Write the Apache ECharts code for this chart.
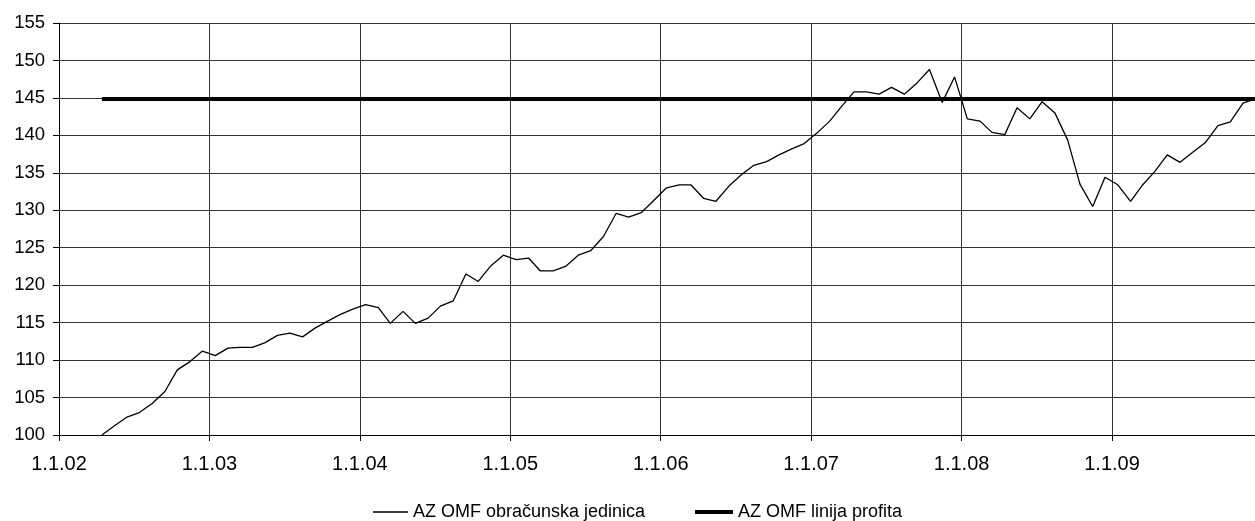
<!DOCTYPE html>
<html>
<head>
<meta charset="utf-8">
<script src="https://cdn.jsdelivr.net/npm/echarts@6/dist/echarts.min.js"></script>
<style>
html,body{margin:0;padding:0;background:#fff;}
#chart{width:1255px;height:521px;}
</style>
</head>
<body>
<div id="chart"></div>
<script>
const seriesNames = ['AZ OMF obračunska jedinica', 'AZ OMF linija profita'];
const dates = [
 '2002-04-15','2002-05-15','2002-06-15','2002-07-15','2002-08-15','2002-09-15','2002-10-15','2002-11-15','2002-12-15',
 '2003-01-15','2003-02-15','2003-03-15','2003-04-15','2003-05-15','2003-06-15','2003-07-15','2003-08-15','2003-09-15','2003-10-15','2003-11-15','2003-12-15',
 '2004-01-15','2004-02-15','2004-03-15','2004-04-15','2004-05-15','2004-06-15','2004-07-15','2004-08-15','2004-09-15','2004-10-15','2004-11-15','2004-12-15',
 '2005-01-15','2005-02-15','2005-03-15','2005-04-15','2005-05-15','2005-06-15','2005-07-15','2005-08-15','2005-09-15','2005-10-15','2005-11-15','2005-12-15',
 '2006-01-15','2006-02-15','2006-03-15','2006-04-15','2006-05-15','2006-06-15','2006-07-15','2006-08-15','2006-09-15','2006-10-15','2006-11-15','2006-12-15',
 '2007-01-15','2007-02-15','2007-03-15','2007-04-15','2007-05-15','2007-06-15','2007-07-15','2007-08-15','2007-09-15','2007-10-15','2007-11-15','2007-12-15',
 '2008-01-15','2008-02-15','2008-03-15','2008-04-15','2008-05-15','2008-06-15','2008-07-15','2008-08-15','2008-09-15','2008-10-15','2008-11-15','2008-12-15',
 '2009-01-15','2009-02-15','2009-03-15','2009-04-15','2009-05-15','2009-06-15','2009-07-15','2009-08-15','2009-09-15','2009-10-15','2009-11-15','2009-12-15'
];
const unitValues = [
 100.0,101.2,102.4,103.0,104.2,105.8,108.7,109.8,111.2,
 110.6,111.6,111.7,111.7,112.3,113.3,113.6,113.1,114.3,115.2,116.1,116.8,
 117.4,117.0,114.9,116.5,114.9,115.6,117.2,117.9,121.5,120.5,122.6,124.0,
 123.4,123.6,121.9,121.9,122.5,124.0,124.6,126.5,129.6,129.1,129.7,131.3,
 133.0,133.4,133.4,131.6,131.2,133.2,134.7,136.0,136.5,137.4,138.2,138.9,
 140.3,141.9,143.8,145.8,145.8,145.5,146.4,145.5,147.0,148.8,144.4,147.8,
 142.2,141.9,140.4,140.1,143.7,142.2,144.5,143.0,139.4,133.5,130.5,134.4,
 133.4,131.2,133.3,135.2,137.4,136.4,137.7,139.0,141.3,141.8,144.3,144.9
];
const profitLevel = 144.87;
const yTicks = [100,105,110,115,120,125,130,135,140,145,150,155];
const xTickYears = [2002,2003,2004,2005,2006,2007,2008,2009];

function yearFrac(s){
  const d = new Date(s + 'T00:00:00Z');
  const y = d.getUTCFullYear();
  const a = Date.UTC(y,0,1), b = Date.UTC(y+1,0,1);
  return y + (d.getTime() - a) / (b - a);
}
const xs = dates.map(yearFrac);
const unitData = xs.map((x,i)=>[x, unitValues[i]]);
const profitData = [[xs[0], profitLevel], [xs[xs.length-1] + 0.05, profitLevel]];

const FONT = '"Liberation Sans", Arial, Helvetica, sans-serif';
const gridColor = '#333333';

const chart = echarts.init(document.getElementById('chart'), null, {renderer:'canvas'});
chart.setOption({
  animation: false,
  backgroundColor: '#ffffff',
  grid: {left: 59, right: 0, top: 23, bottom: 86, containLabel: false},
  xAxis: {
    type: 'value',
    min: xTickYears[0],
    max: xTickYears[0] + 1196/150.43,
    interval: 1,
    axisLine: {show: true, onZero: false, lineStyle: {color: '#000', width: 1}},
    axisTick: {show: true, inside: false, length: 6, lineStyle: {color: '#000'}},
    axisLabel: {
      show: true, margin: 19, color: '#000', fontSize: 20, fontFamily: FONT,
      showMaxLabel: false,
      formatter: v => xTickYears.includes(Math.round(v)) && Math.abs(v - Math.round(v)) < 1e-6 ? '1.1.' + String(Math.round(v)).slice(2) : ''
    },
    splitLine: {show: true, lineStyle: {color: gridColor, width: 1}}
  },
  yAxis: {
    type: 'value',
    min: yTicks[0], max: yTicks[yTicks.length-1], interval: 5,
    axisLine: {show: true, lineStyle: {color: '#000', width: 1}},
    axisTick: {show: true, inside: false, length: 6, lineStyle: {color: '#000'}},
    axisLabel: {show: true, margin: 14, color: '#000', fontSize: 18.5, fontFamily: FONT},
    splitLine: {show: true, lineStyle: {color: gridColor, width: 1}}
  },
  legend: [
    {
      data: [seriesNames[0]], left: 373, top: 503, icon: 'rect', itemWidth: 35, itemHeight: 1.5,
      textStyle: {color: '#000', fontSize: 18, fontFamily: FONT}, padding: 0
    },
    {
      data: [seriesNames[1]], left: 695, top: 503, icon: 'rect', itemWidth: 38, itemHeight: 4,
      textStyle: {color: '#000', fontSize: 18, fontFamily: FONT}, padding: 0
    }
  ],
  series: [
    {
      name: seriesNames[0], type: 'line', data: unitData, symbol: 'none',
      lineStyle: {color: '#000', width: 1.3}, itemStyle: {color: '#000'}, z: 3
    },
    {
      name: seriesNames[1], type: 'line', data: profitData, symbol: 'none',
      lineStyle: {color: '#000', width: 4}, itemStyle: {color: '#000'}, z: 2
    }
  ]
});
</script>
</body>
</html>
